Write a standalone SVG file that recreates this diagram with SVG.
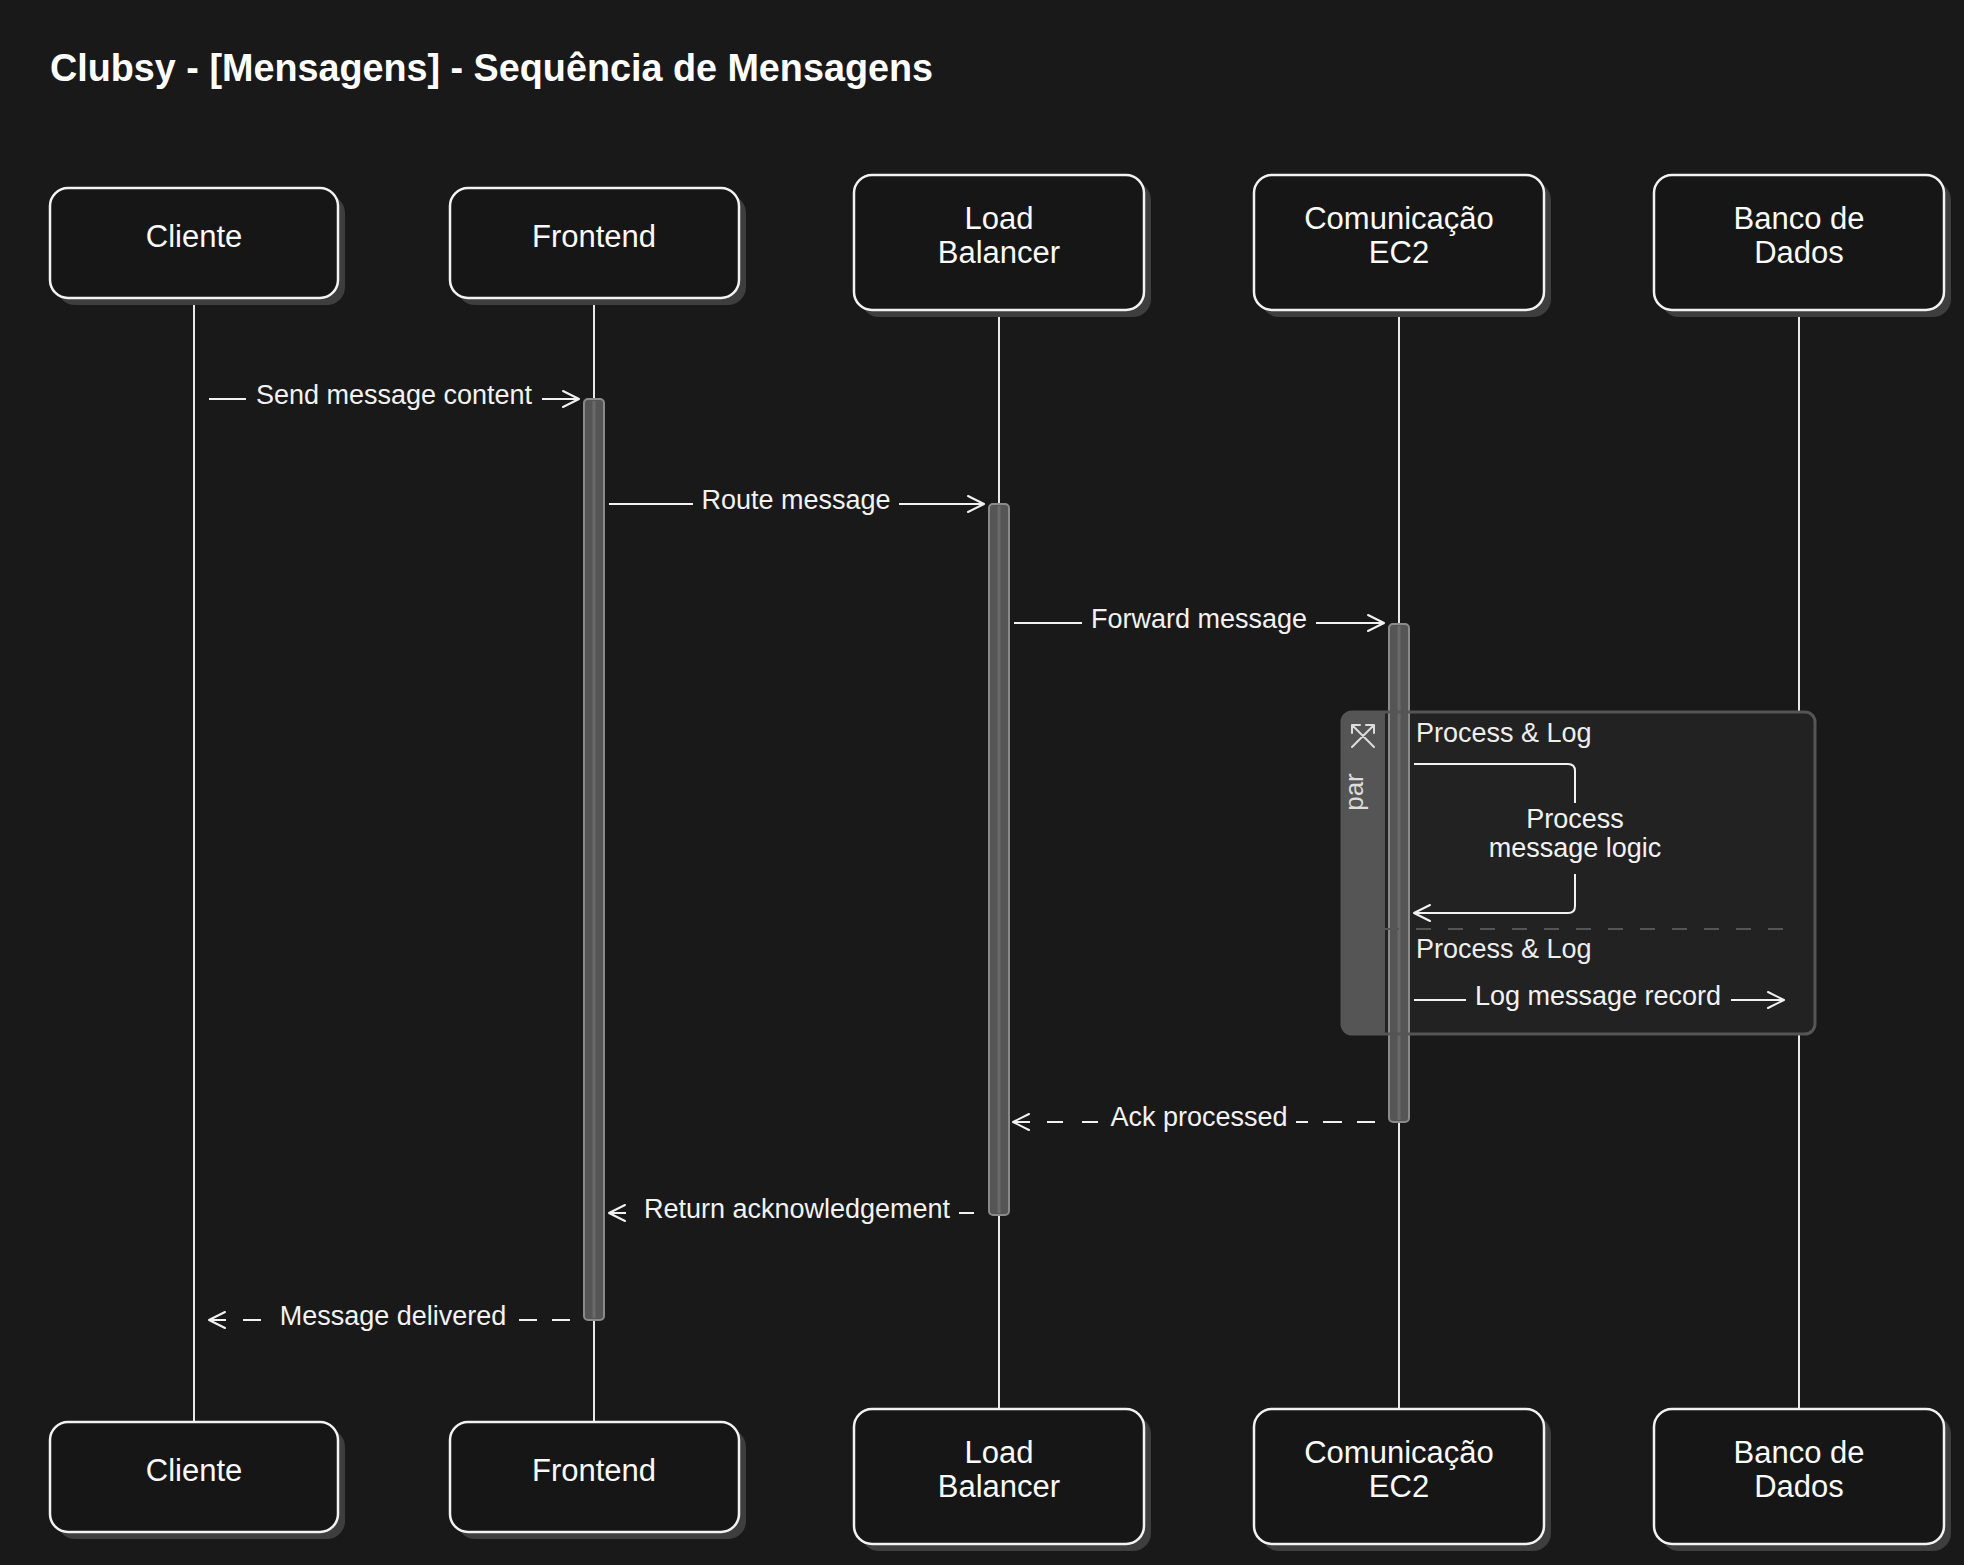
<svg xmlns="http://www.w3.org/2000/svg" width="1964" height="1565" viewBox="0 0 1964 1565">
<defs>
<style>
.bg{fill:#191919}
.shadow{fill:#3e3e3e}
.box{fill:#161616;stroke:#f2f2f2;stroke-width:2.5}
.atext{font-family:"Liberation Sans",Arial,sans-serif;font-size:31px;fill:#fafafa;text-anchor:middle}
.life{stroke:#e8e8e8;stroke-width:2;fill:none}
.act{fill:#555555;stroke:#8a8a8a;stroke-width:2}
.actmid{stroke:#6a6a6a;stroke-width:3}
.msg{stroke:#f2f2f2;stroke-width:2;fill:none}
.lbl{font-family:"Liberation Sans",Arial,sans-serif;font-size:27px;fill:#f2f2f2;text-anchor:middle}
.lblL{font-family:"Liberation Sans",Arial,sans-serif;font-size:27px;fill:#eeeeee;text-anchor:start}
.title{font-family:"Liberation Sans",Arial,sans-serif;font-size:39px;font-weight:bold;fill:#ffffff}
</style>
<marker id="arr" markerUnits="userSpaceOnUse" markerWidth="20" markerHeight="20" viewBox="-18 -10 20 20" refX="0" refY="0" orient="auto">
<path d="M-16,-8 L0,0 L-16,8" fill="none" stroke="#f2f2f2" stroke-width="2" stroke-linecap="round" stroke-linejoin="round"/>
</marker>
</defs>
<rect class="bg" x="0" y="0" width="1964" height="1565"/>
<text class="title" x="50" y="81" textLength="883" lengthAdjust="spacingAndGlyphs">Clubsy - [Mensagens] - Sequência de Mensagens</text>

<g id="lifelines">
<path class="life" d="M194,298 V1422"/>
<path class="life" d="M594,298 V1422"/>
<path class="life" d="M999,310 V1409"/>
<path class="life" d="M1399,310 V1409"/>
<path class="life" d="M1799,310 V1409"/>
</g>

<g id="par-frame">
<rect x="1342" y="712" width="473" height="322" rx="10" fill="#222222"/>
<path d="M1352,712 H1385 V1034 H1352 Q1342,1034 1342,1024 V722 Q1342,712 1352,712 Z" fill="#555555"/>
</g>

<g id="activations">
<rect class="act" x="584" y="399" width="20" height="921" rx="4"/>
<path class="actmid" d="M594,401 V1318"/>
<rect class="act" x="989" y="504" width="20" height="711" rx="4"/>
<path class="actmid" d="M999,506 V1213"/>
<rect class="act" x="1389" y="624" width="20" height="498" rx="4"/>
<path class="actmid" d="M1399,626 V1120"/>
</g>

<g id="par">
<rect x="1342" y="712" width="473" height="322" rx="10" fill="none" stroke="#555555" stroke-width="3"/>
<path d="M1352,725 L1374,747 M1352,725 H1360 M1352,725 V733 M1374,725 L1352,747 M1374,725 H1366 M1374,725 V733" fill="none" stroke="#dddddd" stroke-width="2" stroke-linecap="round"/>
<text x="1363" y="792" transform="rotate(-90 1363 792)" font-family="'Liberation Sans',Arial,sans-serif" font-size="26" fill="#dddddd" text-anchor="middle">par</text>
<path d="M1384,929 H1800" stroke="#555555" stroke-width="2" stroke-dasharray="15 17" fill="none"/>
<text class="lblL" x="1416" y="742">Process &amp; Log</text>
<text class="lblL" x="1416" y="958">Process &amp; Log</text>
</g>

<g id="connectors">
<path class="msg" d="M209,399 H246 M542,399 H579" marker-end="url(#arr)"/>
<text class="lbl" x="394" y="404">Send message content</text>

<path class="msg" d="M609,504 H693 M899,504 H984" marker-end="url(#arr)"/>
<text class="lbl" x="796" y="509">Route message</text>

<path class="msg" d="M1014,623 H1082 M1316,623 H1384" marker-end="url(#arr)"/>
<text class="lbl" x="1199" y="628">Forward message</text>

<path class="msg" d="M1414,764 H1568 Q1575,764 1575,771 V803 M1575,874 V906 Q1575,913 1568,913 H1414" marker-end="url(#arr)"/>
<text class="lbl" x="1575" y="828">Process</text>
<text class="lbl" x="1575" y="857">message logic</text>

<path class="msg" d="M1414,1000 H1466 M1731,1000 H1784" marker-end="url(#arr)"/>
<text class="lbl" x="1598" y="1005">Log message record</text>

<path class="msg" d="M1357,1122 H1375 M1323,1122 H1342 M1296,1122 H1308 M1082,1122 H1098 M1047,1122 H1063 M1030,1122 H1013" marker-end="url(#arr)"/>
<text class="lbl" x="1199" y="1126">Ack processed</text>

<path class="msg" d="M959,1213 H974 M626,1213 H609" marker-end="url(#arr)"/>
<text class="lbl" x="797" y="1218">Return acknowledgement</text>

<path class="msg" d="M552,1320 H570 M519,1320 H537 M243,1320 H261 M226,1320 H209" marker-end="url(#arr)"/>
<text class="lbl" x="393" y="1325">Message delivered</text>
</g>

<g id="actor-cliente-top">
<rect class="shadow" x="57" y="195" width="288" height="110" rx="18"/>
<rect class="box" x="50" y="188" width="288" height="110" rx="18"/>
<text class="atext" x="194" y="247">Cliente</text>
</g>
<g id="actor-frontend-top">
<rect class="shadow" x="457" y="195" width="289" height="110" rx="18"/>
<rect class="box" x="450" y="188" width="289" height="110" rx="18"/>
<text class="atext" x="594" y="247">Frontend</text>
</g>
<g id="actor-lb-top">
<rect class="shadow" x="861" y="182" width="290" height="135" rx="18"/>
<rect class="box" x="854" y="175" width="290" height="135" rx="18"/>
<text class="atext" x="999" y="229">Load</text>
<text class="atext" x="999" y="263">Balancer</text>
</g>
<g id="actor-ec2-top">
<rect class="shadow" x="1261" y="182" width="290" height="135" rx="18"/>
<rect class="box" x="1254" y="175" width="290" height="135" rx="18"/>
<text class="atext" x="1399" y="229">Comunicação</text>
<text class="atext" x="1399" y="263">EC2</text>
</g>
<g id="actor-db-top">
<rect class="shadow" x="1661" y="182" width="290" height="135" rx="18"/>
<rect class="box" x="1654" y="175" width="290" height="135" rx="18"/>
<text class="atext" x="1799" y="229">Banco de</text>
<text class="atext" x="1799" y="263">Dados</text>
</g>

<g id="actor-cliente-bottom">
<rect class="shadow" x="57" y="1429" width="288" height="110" rx="18"/>
<rect class="box" x="50" y="1422" width="288" height="110" rx="18"/>
<text class="atext" x="194" y="1481">Cliente</text>
</g>
<g id="actor-frontend-bottom">
<rect class="shadow" x="457" y="1429" width="289" height="110" rx="18"/>
<rect class="box" x="450" y="1422" width="289" height="110" rx="18"/>
<text class="atext" x="594" y="1481">Frontend</text>
</g>
<g id="actor-lb-bottom">
<rect class="shadow" x="861" y="1416" width="290" height="135" rx="18"/>
<rect class="box" x="854" y="1409" width="290" height="135" rx="18"/>
<text class="atext" x="999" y="1463">Load</text>
<text class="atext" x="999" y="1497">Balancer</text>
</g>
<g id="actor-ec2-bottom">
<rect class="shadow" x="1261" y="1416" width="290" height="135" rx="18"/>
<rect class="box" x="1254" y="1409" width="290" height="135" rx="18"/>
<text class="atext" x="1399" y="1463">Comunicação</text>
<text class="atext" x="1399" y="1497">EC2</text>
</g>
<g id="actor-db-bottom">
<rect class="shadow" x="1661" y="1416" width="290" height="135" rx="18"/>
<rect class="box" x="1654" y="1409" width="290" height="135" rx="18"/>
<text class="atext" x="1799" y="1463">Banco de</text>
<text class="atext" x="1799" y="1497">Dados</text>
</g>
</svg>
